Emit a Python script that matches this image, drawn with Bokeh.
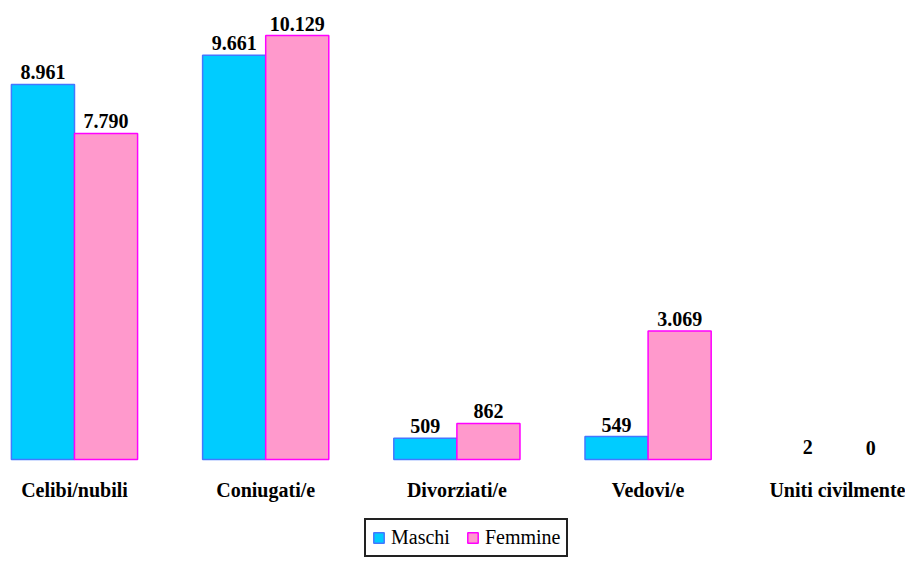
from bokeh.plotting import figure
from bokeh.models import ColumnDataSource, Range1d, FixedTicker, Legend, LegendItem
from bokeh.transform import dodge
from bokeh.core.properties import value
from bokeh.embed import file_html
from bokeh.resources import INLINE

categories = ["Celibi/nubili", "Coniugati/e", "Divorziati/e", "Vedovi/e", "Uniti civilmente"]
maschi = [8961, 9661, 509, 549, 2]
femmine = [7790, 10129, 862, 3069, 0]


def fmt(v):
    return f"{v:,}".replace(",", ".")


UNITS_PER_PX = 23.895  # vertical scale (value units per pixel)

idx = list(range(len(categories)))
src = ColumnDataSource(dict(
    idx=idx,
    maschi=maschi,
    femmine=femmine,
    m_lab=[fmt(v) for v in maschi],
    f_lab=[fmt(v) for v in femmine],
    # bars thinner than one pixel show no outline (as in the original)
    m_line=[1.0 if v >= UNITS_PER_PX else 0.0 for v in maschi],
    f_line=[1.0 if v >= UNITS_PER_PX else 0.0 for v in femmine],
))

FONT = "Liberation Serif"

p = figure(width=905, height=558,
           x_range=Range1d(-0.387, -0.387 + 905 / 191.2),
           y_range=Range1d(-99 * UNITS_PER_PX, 459 * UNITS_PER_PX),
           output_backend="svg", toolbar_location=None,
           y_axis_location=None,
           min_border_left=0, min_border_right=0, min_border_top=0,
           min_border_bottom=0)
p.outline_line_color = None
p.xgrid.grid_line_color = None
p.ygrid.grid_line_color = None
p.background_fill_color = "white"
p.border_fill_color = "white"

rm = p.vbar(x=dodge("idx", -0.165, range=p.x_range), top="maschi", width=0.33,
            source=src, fill_color="#00CCFF", line_color="#4477FF",
            line_alpha="m_line", line_width=1.5)
rf = p.vbar(x=dodge("idx", 0.165, range=p.x_range), top="femmine", width=0.33,
            source=src, fill_color="#FF99CC", line_color="#FF00FF",
            line_alpha="f_line", line_width=1.5)

for off, col, lab in [(-0.165, "maschi", "m_lab"), (0.165, "femmine", "f_lab")]:
    p.text(x=dodge("idx", off, range=p.x_range), y=col, text=lab, source=src,
           text_align="center", text_baseline="bottom", y_offset=-5,
           text_font=value(FONT), text_font_style="bold",
           text_font_size="20px", text_color="black")

ax = p.xaxis[0]
ax.fixed_location = 0
ax.ticker = FixedTicker(ticks=idx)
ax.major_label_overrides = {i: c for i, c in zip(idx, categories)}
ax.axis_line_color = None
ax.major_tick_line_color = None
ax.minor_tick_line_color = None
ax.major_label_standoff = 13
ax.major_label_text_font = FONT
ax.major_label_text_font_style = "bold"
ax.major_label_text_font_size = "20px"
ax.major_label_text_color = "black"

legend = Legend(items=[LegendItem(label="Maschi", renderers=[rm]),
                       LegendItem(label="Femmine", renderers=[rf])],
                orientation="horizontal", location=(364, 1))
legend.label_text_font = FONT
legend.label_text_font_size = "20px"
legend.label_text_color = "black"
legend.glyph_width = 13
legend.glyph_height = 13
legend.label_standoff = 6
legend.spacing = 16
legend.padding = 6
legend.margin = 0
legend.border_line_color = "#222222"
legend.border_line_alpha = 1
legend.border_line_width = 2
legend.background_fill_color = "white"
legend.background_fill_alpha = 1
p.add_layout(legend)

open("out.html", "w").write(file_html(p, INLINE))
